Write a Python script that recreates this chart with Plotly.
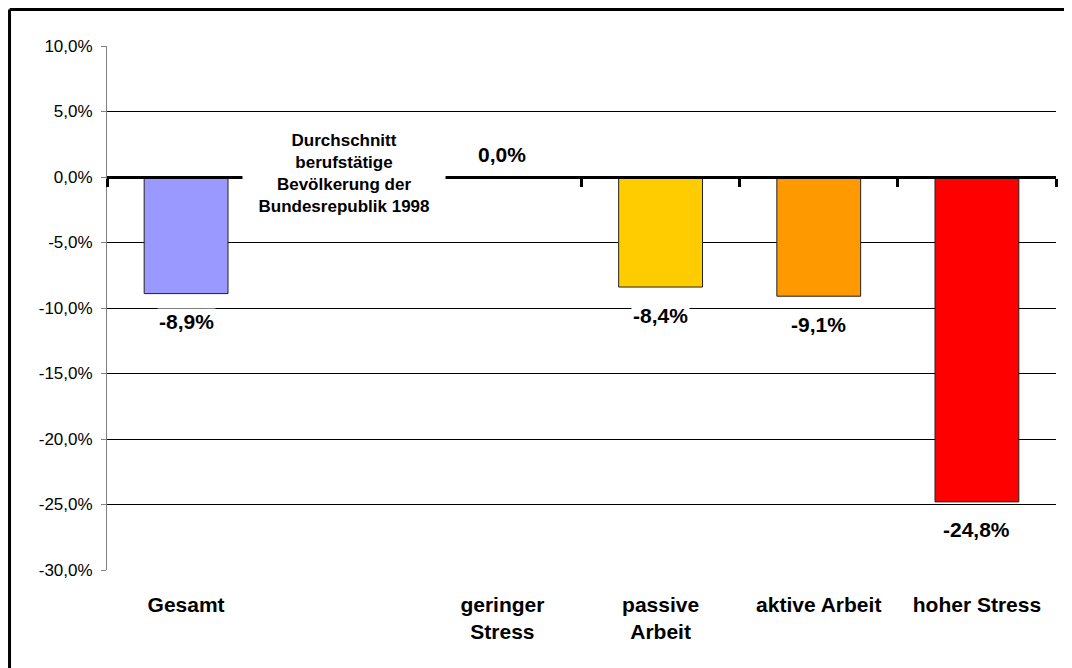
import plotly.graph_objects as go

categories = ["Gesamt", " ", "geringer<br>Stress", "passive<br>Arbeit", "aktive Arbeit", "hoher Stress"]
values = [-8.9, None, 0.0, -8.4, -9.1, -24.8]
colors = ["#9999FF", "#FFFFFF", "#FFFFFF", "#FFCC00", "#FF9900", "#FF0000"]
y_ticks = [10, 5, 0, -5, -10, -15, -20, -25, -30]
note_text = "Durchschnitt<br>berufstätige<br>Bevölkerung der<br>Bundesrepublik 1998"

FONT = "Liberation Sans, Arial, sans-serif"

fig = go.Figure()
fig.add_trace(go.Bar(
    x=categories, y=values, width=0.53,
    marker=dict(color=colors, line=dict(color="#222222", width=1)),
    showlegend=False, hoverinfo="skip",
))
# helper trace for the category axis drawn at y = 0
fig.add_trace(go.Scatter(x=categories, y=[None] * len(categories), xaxis="x2",
                         mode="markers", showlegend=False, hoverinfo="skip"))

def fmt(v):
    return f"{v:.1f}".replace(".", ",") + "%"

for c, v in zip(categories, values):
    if v is None:
        continue
    fig.add_annotation(
        x=c, y=v, text=f"<b>{fmt(v)}</b>", showarrow=False,
        yanchor="middle", yshift=(-28 if v < 0 else 23),
        bgcolor="white", borderpad=1,
        font=dict(family=FONT, size=21, color="black"),
    )

fig.add_annotation(
    x=categories[1], y=0, text=f"<b>{note_text}</b>", showarrow=False,
    yanchor="middle", yshift=4, bgcolor="white", width=196, borderpad=3,
    font=dict(family=FONT, size=17, color="black"),
)

# outer frame (left and top edges visible)
fig.add_shape(type="line", xref="paper", yref="paper",
              x0=-0.1027, x1=-0.1027, y0=1.0697, y1=-0.3, line=dict(color="black", width=3))
fig.add_shape(type="line", xref="paper", yref="paper",
              x0=-0.1027, x1=1.1, y0=1.0697, y1=1.0697, line=dict(color="black", width=3))

fig.update_layout(
    width=1064, height=660,
    margin=dict(l=99, r=16, t=38, b=98),
    paper_bgcolor="white", plot_bgcolor="white",
    separators=",.",
    font=dict(family=FONT, color="black"),
    xaxis=dict(
        type="category", categoryorder="array", categoryarray=categories,
        range=[-0.5, 5.5], showgrid=False, showline=False, ticks="",
        tickfont=dict(family=FONT, size=21, color="black", weight="bold"),
        ticklabelstandoff=20,
    ),
    xaxis2=dict(
        type="category", overlaying="x", matches="x", anchor="free", position=0.75,
        side="bottom", showticklabels=False, showgrid=False,
        showline=True, linewidth=3, linecolor="black",
        ticks="outside", tickson="boundaries", ticklen=8, tickwidth=3, tickcolor="black",
    ),
    yaxis=dict(
        range=[-30, 10], tickvals=y_ticks, ticktext=[fmt(t) for t in y_ticks],
        showgrid=True, gridcolor="#000000", gridwidth=1,
        zeroline=False, showline=True, linecolor="#808080", linewidth=1,
        ticks="outside", ticklen=5, tickcolor="#808080",
        ticklabelstandoff=5,
        tickfont=dict(family=FONT, size=17, color="black"),
    ),
)

fig.write_html("out.html")
